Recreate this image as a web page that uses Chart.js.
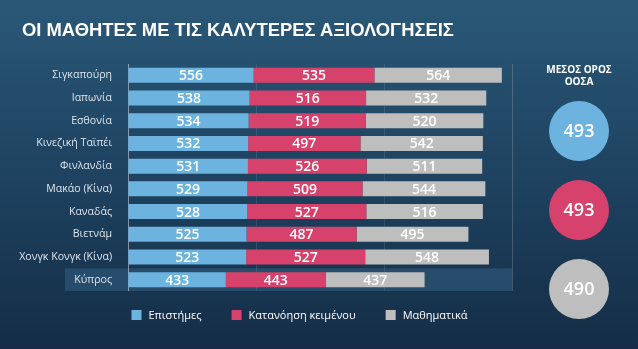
<!DOCTYPE html>
<html>
<head>
<meta charset="utf-8">
<script src="https://cdn.jsdelivr.net/npm/chart.js@4.4.1/dist/chart.umd.min.js"></script>
<style>
  html, body { margin: 0; padding: 0; }
  body {
    position: relative;
    width: 638px;
    height: 349px;
    overflow: hidden;
    background: linear-gradient(180deg, #2b5877 0%, #244d6c 25%, #1b3c59 65%, #152d46 100%);
  }
  h1 {
    position: absolute;
    left: 22px;
    top: 19px;
    margin: 0;
    font: bold 18.4px 'Liberation Sans', Arial, sans-serif;
    line-height: 22px;
    color: #ffffff;
    white-space: nowrap;
  }
  canvas { position: absolute; left: 0; top: 0; }
</style>
</head>
<body>
<canvas id="Scores" width="638" height="349"></canvas>
<h1>ΟΙ ΜΑΘΗΤΕΣ ΜΕ ΤΙΣ ΚΑΛΥΤΕΡΕΣ ΑΞΙΟΛΟΓΗΣΕΙΣ</h1>
<script>
const Countries = ["Σιγκαπούρη", "Ιαπωνία", "Εσθονία", "Κινεζική Ταϊπέι", "Φινλανδία", "Μακάο (Κίνα)", "Καναδάς", "Βιετνάμ", "Χονγκ Κονγκ (Κίνα)", "Κύπρος"];
const Science = [556, 538, 534, 532, 531, 529, 528, 525, 523, 433];
const Reading = [535, 516, 519, 497, 526, 509, 527, 487, 527, 443];
const Maths = [564, 532, 520, 542, 511, 544, 516, 495, 548, 437];
const SeriesNames = ["Επιστήμες", "Κατανόηση κειμένου", "Μαθηματικά"];
const OecdAverage = [493, 493, 490];

const Colors = ["#6cb4df", "#d6426b", "#bfbebe"];
const LabelFont = "'Open Sans', 'Noto Sans', sans-serif";
const Highlighted = "Κύπρος";

// light band behind the highlighted country row
const HighlightRow = {
  id: "highlightRow",
  beforeDraw(chart) {
    const { ctx, chartArea, scales } = chart;
    const Index = Countries.indexOf(Highlighted);
    const Band = (chartArea.bottom - chartArea.top) / Countries.length;
    const Y = scales.y.getPixelForValue(Index);
    ctx.save();
    ctx.fillStyle = "rgba(70, 125, 165, 0.32)";
    ctx.fillRect(65, Y - Band / 2, chartArea.right - 65, Band);
    ctx.restore();
  }
};

// score printed in the middle of each segment
const SegmentValues = {
  id: "segmentValues",
  afterDatasetsDraw(chart) {
    const { ctx } = chart;
    ctx.save();
    ctx.fillStyle = "#ffffff";
    ctx.font = `600 14px ${LabelFont}`;
    ctx.textAlign = "center";
    ctx.textBaseline = "middle";
    chart.data.datasets.forEach((Dataset, i) => {
      chart.getDatasetMeta(i).data.forEach((Bar, j) => {
        const { x, base, y } = Bar.getProps(["x", "base", "y"], true);
        ctx.fillText(Dataset.data[j], (x + base) / 2, y + 1);
      });
    });
    ctx.restore();
  }
};

// legend row under the bars and the OECD average badges on the right
const SidePanel = {
  id: "sidePanel",
  afterDraw(chart) {
    const { ctx } = chart;
    ctx.save();

    ctx.font = `11px ${LabelFont}`;
    ctx.textBaseline = "middle";
    ctx.textAlign = "left";
    let X = 131.5;
    const LegendY = 315;
    chart.data.datasets.forEach((Dataset) => {
      ctx.fillStyle = Dataset.backgroundColor;
      ctx.fillRect(X, LegendY - 5, 10, 10);
      ctx.fillStyle = "#ffffff";
      ctx.fillText(Dataset.label, X + 17, LegendY + 1);
      X += 17 + ctx.measureText(Dataset.label).width + 30;
    });

    const CenterX = 579;
    ctx.textAlign = "center";
    ctx.fillStyle = "#ffffff";
    ctx.font = `bold 10px ${LabelFont}`;
    ctx.fillText("ΜΕΣΟΣ ΟΡΟΣ", CenterX, 70);
    ctx.fillText("ΟΟΣΑ", CenterX, 82);

    OecdAverage.forEach((Value, i) => {
      const Y = 131 + i * 79;
      ctx.beginPath();
      ctx.arc(CenterX, Y, 30, 0, Math.PI * 2);
      ctx.fillStyle = Colors[i];
      ctx.fill();
      ctx.fillStyle = "#ffffff";
      ctx.font = `600 18px ${LabelFont}`;
      ctx.fillText(Value, CenterX, Y + 1);
    });
    ctx.restore();
  }
};

const Datasets = [Science, Reading, Maths].map((Values, i) => ({
  label: SeriesNames[i],
  data: Values,
  backgroundColor: Colors[i],
  borderWidth: 0,
  barPercentage: 0.66,
  categoryPercentage: 1
}));

const Config = {
  type: "bar",
  data: { labels: Countries, datasets: Datasets },
  options: {
    indexAxis: "y",
    responsive: false,
    animation: false,
    devicePixelRatio: 1,
    layout: { padding: { left: 0, right: 126, top: 64, bottom: 58 } },
    plugins: {
      legend: { display: false },
      tooltip: { enabled: false }
    },
    scales: {
      x: {
        stacked: true,
        min: 0,
        max: 1700,
        ticks: { display: false, count: 4 },
        border: { display: false },
        grid: {
          drawTicks: false,
          color: (Ctx) => Ctx.index === 0 ? "rgba(255,255,255,0.45)" : Ctx.index === 3 ? "rgba(255,255,255,0.18)" : "rgba(255,255,255,0.1)"
        }
      },
      y: {
        stacked: true,
        border: { display: false },
        grid: { display: false, drawTicks: false },
        ticks: {
          color: "#dce4ec",
          padding: 16,
          font: { family: LabelFont, size: 10.6 }
        },
        afterFit(Scale) { Scale.width = 128; }
      }
    }
  },
  plugins: [HighlightRow, SegmentValues, SidePanel]
};

new Chart(document.getElementById("Scores"), Config);
</script>
</body>
</html>
